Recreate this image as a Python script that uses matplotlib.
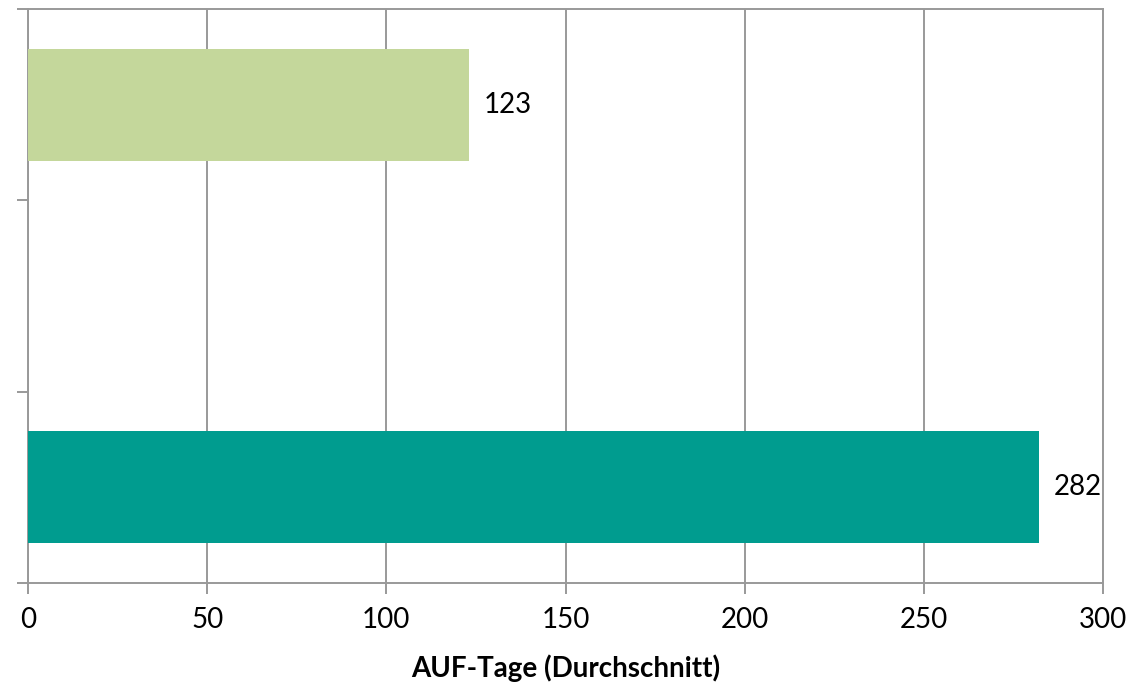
import numpy as np
import matplotlib
matplotlib.use("Agg")
import matplotlib.pyplot as plt

categories = ["Gruppe 1", "Gruppe 2", "Gruppe 3"]
values = [282, np.nan, 123]
colors = ["#009C8F", "#C4D79B", "#C4D79B"]
xticks = [0, 50, 100, 150, 200, 250, 300]
xlabel = "AUF-Tage (Durchschnitt)"

plt.rcParams['font.family'] = ['Lato', 'DejaVu Sans']

W, H = 1131, 685
fig = plt.figure(figsize=(W / 100, H / 100), dpi=100)
ax = fig.add_axes([28 / W, (H - 583) / H, (1103 - 28) / W, (583 - 9) / H])

y = np.arange(len(categories))
vals = np.nan_to_num(np.array(values, dtype=float))
ax.barh(y, vals, height=0.587, color=colors, zorder=3)
for yi, v in zip(y, values):
    if not np.isnan(v):
        ax.text(v + 4.3, yi, f"{v:g}", va="center", ha="left", fontsize=20, color="black")

ax.set_xlim(0, 300)
ax.set_ylim(-0.5, 2.5)
ax.set_xticks(xticks)
ax.set_xticklabels([str(t) for t in xticks], fontsize=20)
ax.set_yticks(np.arange(-0.5, len(categories), 1.0))
ax.set_yticklabels([])
ax.xaxis.grid(True, color="#999999", linewidth=1.4, zorder=0)
ax.set_axisbelow(True)
for s in ax.spines.values():
    s.set_color("#999999")
    s.set_linewidth(1.4)
ax.tick_params(axis="both", color="#999999", width=1.4, length=8)
ax.tick_params(axis="x", pad=9)
ax.set_xlabel(xlabel, fontsize=20, fontweight="bold", labelpad=16)

fig.savefig("out.png", dpi=100)
